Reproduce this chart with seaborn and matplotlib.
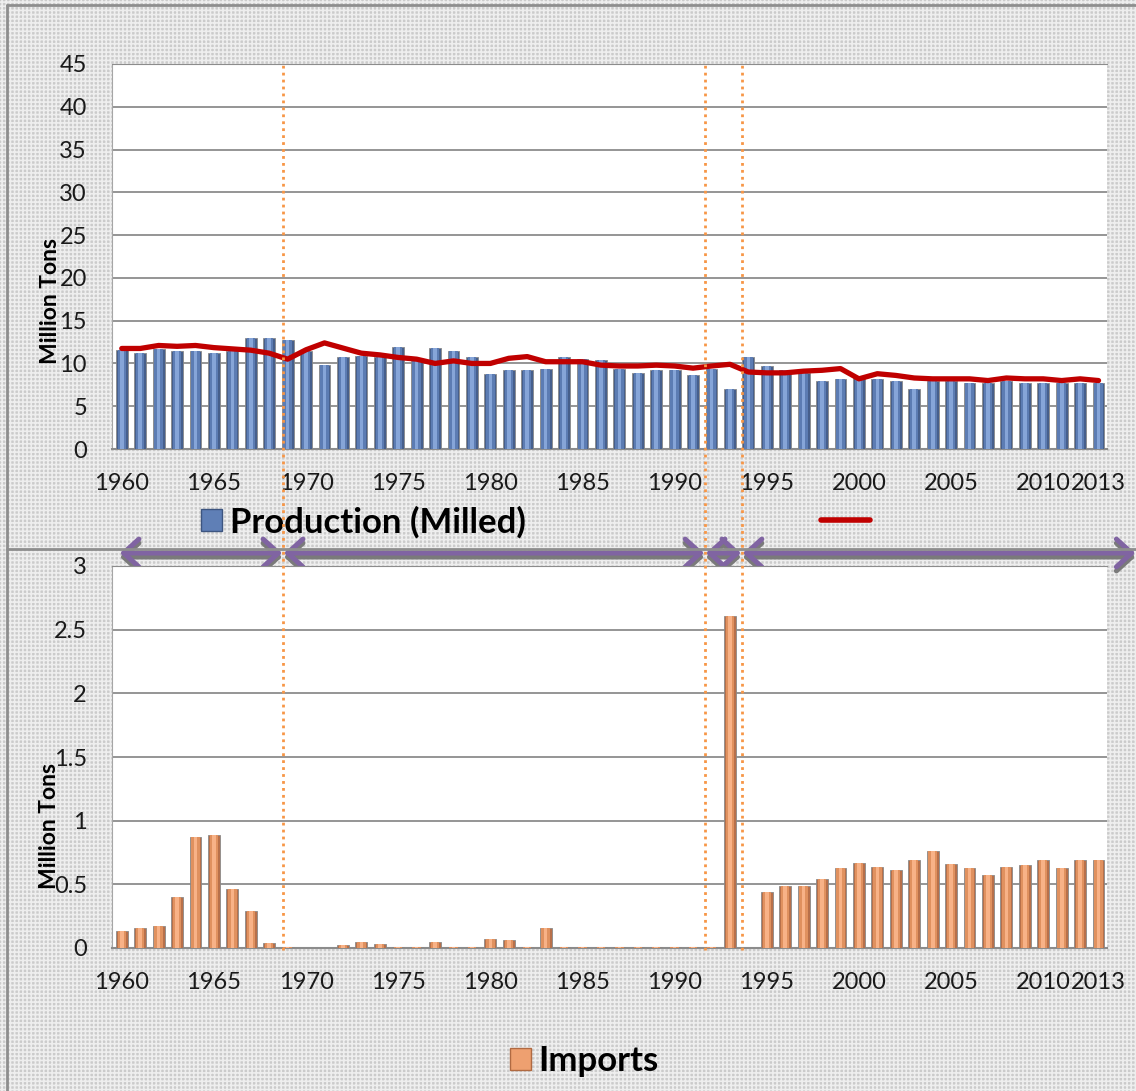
import numpy as np
import pandas as pd
import matplotlib
matplotlib.use("Agg")
import matplotlib.pyplot as plt
import seaborn as sns
from matplotlib.lines import Line2D
from matplotlib.patches import Rectangle, Patch
import matplotlib.transforms as mtransforms

# ---------------- data ----------------
years = list(range(1960, 2014))
production = [11.6, 11.2, 11.7, 11.5, 11.4, 11.2, 11.4, 13.0, 13.0, 12.7,
              11.5, 9.8, 10.7, 10.9, 10.7, 11.9, 10.3, 11.8, 11.4, 10.8,
              8.8, 9.2, 9.2, 9.4, 10.7, 10.5, 10.4, 9.3, 8.9, 9.2,
              9.2, 8.6, 9.4, 7.0, 10.7, 9.7, 9.2, 8.9, 8.0, 8.2,
              8.3, 8.2, 8.0, 7.0, 7.9, 8.0, 7.7, 7.7, 7.9, 7.7,
              7.7, 7.7, 7.7, 7.7]
trend = [11.75, 11.75, 12.1, 12.0, 12.1, 11.85, 11.7, 11.55, 11.2, 10.5,
         11.6, 12.4, 11.8, 11.2, 11.0, 10.7, 10.5, 10.0, 10.3, 10.0,
         10.0, 10.6, 10.8, 10.2, 10.2, 10.2, 9.8, 9.7, 9.7, 9.8,
         9.7, 9.45, 9.7, 9.9, 9.0, 8.9, 8.9, 9.1, 9.2, 9.4,
         8.2, 8.8, 8.6, 8.3, 8.2, 8.2, 8.2, 8.0, 8.3, 8.2,
         8.2, 8.0, 8.2, 8.0]
imports = [0.13, 0.16, 0.17, 0.40, 0.87, 0.89, 0.46, 0.29, 0.04, 0.01,
           0.003, 0.0, 0.02, 0.05, 0.03, 0.01, 0.01, 0.05, 0.01, 0.01,
           0.07, 0.06, 0.005, 0.16, 0.01, 0.01, 0.01, 0.01, 0.01, 0.01,
           0.01, 0.01, 0.01, 2.61, 0.0, 0.44, 0.49, 0.49, 0.54, 0.63,
           0.67, 0.64, 0.61, 0.69, 0.76, 0.66, 0.63, 0.57, 0.64, 0.65,
           0.69, 0.63, 0.69, 0.69]
xtick_years = [1960, 1965, 1970, 1975, 1980, 1985, 1990, 1995, 2000, 2005, 2010, 2013]
top_yticks = [0, 5, 10, 15, 20, 25, 30, 35, 40, 45]
bottom_yticks = [0, 0.5, 1, 1.5, 2, 2.5, 3]
bottom_yticklabels = ["0", "0.5", "1", "1.5", "2", "2.5", "3"]
period_breaks = [1968.75, 1991.65, 1993.65]     # dotted separators (years)
period_arrows = [(1959.9, 1968.7), (1968.8, 1991.6), (1991.7, 1993.6), (1993.7, 2015.0)]
y_label = "Million Tons"
prod_label = "Production (Milled)"
imp_label = "Imports"

df = pd.DataFrame({"year": [str(y) for y in years], "production": production,
                   "trend": trend, "imports": imports, "pos": np.arange(len(years))})

# ---------------- style ----------------
sns.set_style("white")
plt.rcParams["font.family"] = ["Lato", "DejaVu Sans"]
plt.rcParams["hatch.linewidth"] = 1.2

W, H = 1136, 1091
fig = plt.figure(figsize=(W / 100, H / 100), dpi=100)
bg = "#cbcbcb"
fig.patch.set_facecolor(bg)
fig.patches.append(Rectangle((0, 0), 1, 1, transform=fig.transFigure, facecolor=bg,
                             edgecolor="#eeeeee", hatch="++++", linewidth=0, zorder=-20))

def fx(px):
    return px / W

def fy(py):
    return 1 - py / H

ax1 = fig.add_axes([fx(112), fy(449), fx(1107) - fx(112), fy(64) - fy(449)])
ax2 = fig.add_axes([fx(112), fy(948), fx(1107) - fx(112), fy(566) - fy(948)])

blue_dark, blue_mid, blue_light = "#465f8c", "#5c7cb3", "#86a5d8"
orng_dark, orng_mid, orng_light = "#b8704a", "#e0915f", "#f8b287"
grid_c = "#8c8c8c"
tick_fs = 17
txt_c = "#1a1a1a"

for ax, col, dark, mid, light, ymax, yt in [
        (ax1, "production", blue_dark, blue_mid, blue_light, 45, top_yticks),
        (ax2, "imports", orng_dark, orng_mid, orng_light, 3, bottom_yticks)]:
    ax.set_facecolor("white")
    sns.barplot(data=df, x="year", y=col, ax=ax, color=dark, width=0.64,
                saturation=1, edgecolor="#8a8a8a", linewidth=0.6, zorder=3)
    sns.barplot(data=df, x="year", y=col, ax=ax, color=mid, width=0.46,
                saturation=1, linewidth=0, zorder=4)
    sns.barplot(data=df, x="year", y=col, ax=ax, color=light, width=0.2,
                saturation=1, linewidth=0, zorder=5)
    ax.set_xlim(-0.53, len(years) - 0.54)
    ax.set_ylim(0, ymax)
    ax.set_yticks(yt)
    ax.yaxis.grid(True, color=grid_c, linewidth=1.3, zorder=0)
    ax.set_axisbelow(True)
    ax.set_xticks([years.index(y) for y in xtick_years])
    ax.set_xticklabels([str(y) for y in xtick_years], fontsize=tick_fs, color=txt_c)
    ax.tick_params(axis="x", length=0, pad=17)
    ax.tick_params(axis="y", length=0, pad=18, labelsize=tick_fs, labelcolor=txt_c)
    ax.set_xlabel("")
    ax.spines["right"].set_visible(False)
    ax.spines["left"].set_color("#a6a6a6")
    ax.spines["top"].set_color(grid_c)
    ax.spines["bottom"].set_color("#8c8c8c")
    ax.spines["bottom"].set_linewidth(1.5)

ax2.set_yticklabels(bottom_yticklabels)

sns.lineplot(data=df, x="pos", y="trend", ax=ax1, color="#c00000", linewidth=3.8, zorder=7)
ax1.set_xlim(-0.53, len(years) - 0.54)
ax1.set_xlabel("")

ax1.set_ylabel(y_label, fontsize=16.5, fontweight="bold", labelpad=0, color="black")
ax1.yaxis.set_label_coords(-0.051, 0.385)
ax2.set_ylabel(y_label, fontsize=16.5, fontweight="bold", labelpad=0, color="black")
ax2.yaxis.set_label_coords(-0.052, 0.32)

# legends
h1 = Patch(facecolor="#5f7fb6", edgecolor="#3d5580")
fig.legend(handles=[h1], labels=[prod_label], loc="center left",
           bbox_to_anchor=(fx(170), fy(522)), frameon=False,
           prop={"size": 25, "weight": "bold"}, handlelength=0.6,
           handleheight=0.6, handletextpad=0.22, labelcolor="black")
h2 = Line2D([], [], color="#c00000", linewidth=4)
fig.legend(handles=[h2], labels=[""], loc="center left",
           bbox_to_anchor=(fx(796), fy(522)), frameon=False,
           prop={"size": 20}, handlelength=1.75, handletextpad=0)
h3 = Patch(facecolor="#eea070", edgecolor="#b06a42")
fig.legend(handles=[h3], labels=[imp_label], loc="center left",
           bbox_to_anchor=(fx(479), fy(1061)), frameon=False,
           prop={"size": 25, "weight": "bold"}, handlelength=0.6,
           handleheight=0.6, handletextpad=0.22, labelcolor="black")

# frame lines of the chart objects
fr = "#8e8e8e"
fig.add_artist(Line2D([fx(7), fx(7)], [0, fy(5)], color=fr, linewidth=2))
fig.add_artist(Line2D([fx(7), 1], [fy(5), fy(5)], color=fr, linewidth=2))
fig.add_artist(Line2D([fx(7), 1], [fy(549), fy(549)], color=fr, linewidth=2))

# dotted period separators (x in data units, y in figure units)
tr = mtransforms.blended_transform_factory(ax1.transData, fig.transFigure)
for yr in period_breaks:
    p = yr - years[0]
    fig.add_artist(Line2D([p, p], [fy(950), fy(64)], transform=tr, color="#f79646",
                          linewidth=2, linestyle=(0, (1, 1.5)), zorder=10))

# period arrows
for a, b in period_arrows:
    pa, pb = a - years[0], b - years[0]
    for dy, c in [(4, "#7a7a7a"), (0, "#8064a2")]:
        ann = ax1.annotate("", xy=(pb, fy(553 + dy)), xytext=(pa, fy(553 + dy)),
                           xycoords=tr, textcoords=tr, annotation_clip=False,
                           arrowprops=dict(arrowstyle="<->,head_length=0.55,head_width=0.5",
                                           color=c, lw=3.6, mutation_scale=20,
                                           shrinkA=0, shrinkB=0))
        ann.set_zorder(12 if dy == 0 else 11)

fig.savefig("out.png", dpi=100, facecolor=fig.get_facecolor())
